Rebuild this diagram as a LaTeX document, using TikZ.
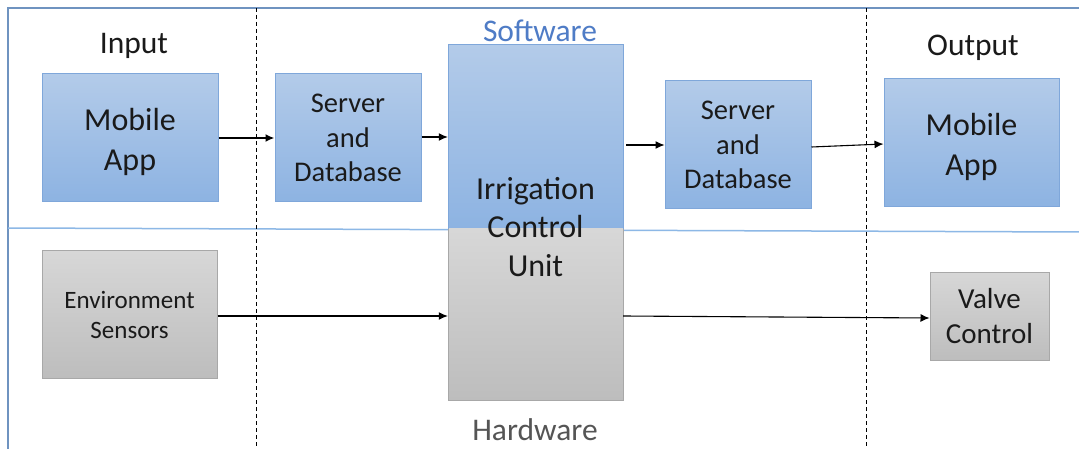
\documentclass[tikz,border=0pt]{standalone}
\usepackage{fontspec}
\setmainfont{Carlito}
\usetikzlibrary{arrows.meta}
\definecolor{bluetop}{HTML}{B3CBE9}
\definecolor{bluebot}{HTML}{8DB3E2}
\definecolor{blueedge}{HTML}{7FA7DA}
\definecolor{graytop}{HTML}{D7D7D7}
\definecolor{graybot}{HTML}{BDBDBD}
\definecolor{grayedge}{HTML}{A8A8A8}
\definecolor{framecol}{HTML}{6F93C0}
\definecolor{divcol}{HTML}{8DB8E6}
\definecolor{swcol}{HTML}{4F7CC6}
\definecolor{hwcol}{HTML}{555555}
\definecolor{txt}{HTML}{1A1A1A}
\tikzset{
  x=1pt, y=-1pt,
  bluebox/.style={draw=blueedge, line width=1pt, top color=bluetop, bottom color=bluebot,
    text=txt, align=center, inner sep=0pt},
  graybox/.style={draw=grayedge, line width=1pt, top color=graytop, bottom color=graybot,
    text=txt, align=center, inner sep=0pt},
  apptext/.style={label={[align=center, text=txt, yshift=-4pt,
    font=\fontsize{32}{39.5}\selectfont]center:Mobile\\App}},
  flow/.style={-{Latex[length=9pt,width=8pt]}, line width=1.1pt, black},
  lane/.style={dashed, dash pattern=on 4pt off 3pt, line width=0.8pt, black},
  heading/.style={font=\fontsize{31.5}{36}\selectfont, text=txt}
}
\begin{document}
\begin{tikzpicture}
\useasboundingbox (0,0) rectangle (1079,449);
\fill[white] (0,0) rectangle (1079,449);

% frame and software/hardware divider
\draw[framecol, line width=1.3pt] (8,449) -- (8,8) -- (1079,8);
\draw[divcol, line width=1.5pt] (8,228) -- (1079,232);

% column separators
\draw[lane] (256,8) -- (256,449);
\draw[lane] (866,8) -- (866,449);

% section headings
\node[heading] (hin) at (134,46) {Input};
\node[heading, text=swcol] (hsw) at (540,31) {Software};
\node[heading] (hout) at (973,48) {Output};
\node[heading, text=hwcol] (hhw) at (535,430) {Hardware};

% irrigation control unit: software half over hardware half
\shade[top color=bluetop, bottom color=bluebot] (448,45) rectangle (623,229);
\shade[top color=graytop, bottom color=graybot] (448,229) rectangle (623,400);
\draw[blueedge, line width=1pt] (448,229) -- (448,45) -- (623,45) -- (623,229);
\draw[grayedge, line width=1pt] (448,229) -- (448,400) -- (623,400) -- (623,229);
\node[minimum width=175pt, minimum height=355pt, inner sep=0pt] (icu) at (535.5,222.5) {};
\node[align=center, text=txt, font=\fontsize{32}{38.5}\selectfont] (icutext) at (535.5,227) {Irrigation\\Control\\Unit};

% software boxes
\node[bluebox, minimum width=176pt, minimum height=128pt, apptext] (appin) at (130,138) {};
\node[bluebox, minimum width=146pt, minimum height=128pt, font=\fontsize{28.5}{34.5}\selectfont]
  (srv1) at (348,138) {Server\\and\\Database};
\node[bluebox, minimum width=146pt, minimum height=128pt, font=\fontsize{28.5}{34.5}\selectfont]
  (srv2) at (738,145) {Server\\and\\Database};
\node[bluebox, minimum width=175pt, minimum height=128pt, apptext] (appout) at (971.5,143) {};

% hardware boxes
\node[graybox, minimum width=175pt, minimum height=127pt, font=\fontsize{25}{30}\selectfont]
  (env) at (129.5,314.5) {Environment\\Sensors};
\node[graybox, minimum width=119pt, minimum height=88pt, font=\fontsize{29}{35}\selectfont]
  (valve) at (989.5,316) {Valve\\Control};

% data flow
\draw[flow, line width=1.8pt] (appin.east) -- (srv1.west);
\draw[flow] (srv1.east |- 0,137) -- (icu.west |- 0,137);
\draw[flow] ([xshift=3pt]icu.east |- 0,145) -- (srv2.west |- 0,145);
\draw[flow] (srv2.east |- 0,147) -- (appout.west |- 0,144);
\draw[flow] (env.east |- 0,316) -- (icu.west |- 0,316);
\draw[flow] (icu.east |- 0,316) -- (valve.west |- 0,318);
\end{tikzpicture}
\end{document}
